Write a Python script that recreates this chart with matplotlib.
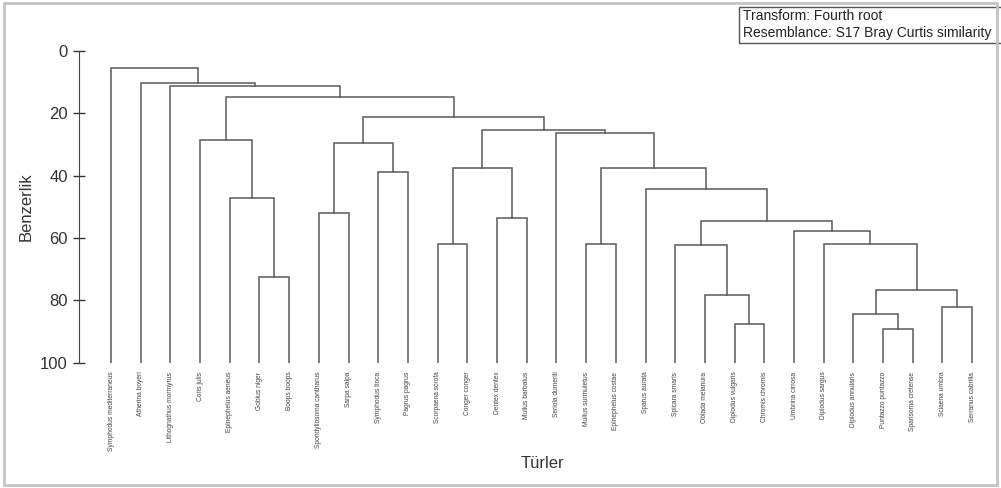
import matplotlib
matplotlib.use('Agg')
import matplotlib.pyplot as plt
from matplotlib.patches import Rectangle

plt.rcParams['font.family'] = ['Liberation Sans', 'DejaVu Sans']

# Leaf order as drawn
species = [
    'Symphodus mediterraneus', 'Atherina boyeri', 'Lithognathus mormyrus', 'Coris julis',
    'Epinephelus aeneus', 'Gobius niger', 'Boops boops', 'Spondyliosoma cantharus',
    'Sarpa salpa', 'Symphodus tinca', 'Pagrus pagrus', 'Scorpaena scrofa',
    'Conger conger', 'Dentex dentex', 'Mullus barbatus', 'Seriola dumerili',
    'Mullus surmuletus', 'Epinephelus costae', 'Sparus aurata', 'Spicara smaris',
    'Oblada melanura', 'Diplodus vulgaris', 'Chromis chromis', 'Umbrina cirrosa',
    'Diplodus sargus', 'Diplodus annularis', 'Puntazzo puntazzo', 'Sparisoma cretense',
    'Sciaena umbra', 'Serranus cabrilla',
]

# Linkage: merge k creates node id len(species)+k (children are leaf indices or earlier nodes)
merge_left = [5, 4, 3, 7, 9, 33, 11, 13, 36, 16, 21, 20, 19, 26, 25, 28, 44, 24, 23, 42,
              18, 39, 15, 38, 35, 32, 2, 1, 0]
merge_right = [6, 30, 31, 8, 10, 34, 12, 14, 37, 17, 22, 40, 41, 27, 43, 29, 45, 46, 47, 48,
               49, 50, 51, 52, 53, 54, 55, 56, 57]
merge_height = [72.5, 47.3, 28.6, 51.9, 38.7, 29.6, 61.8, 53.5, 37.6, 61.9, 87.5, 78.4, 62.2,
                89.2, 84.5, 82.1, 76.7, 62.0, 57.7, 54.4, 44.2, 37.4, 26.4, 25.3, 21.1, 14.7,
                11.1, 10.2, 5.5]

y_ticks = [0, 20, 40, 60, 80, 100]
line_col = '#5a5a5a'

fig = plt.figure(figsize=(10.01, 4.88), dpi=100)
ax = fig.add_axes([79 / 1001, 0.2568, 911 / 1001, 0.6387])

# node positions
n = len(species)
xs = list(range(n))
ys = [100.0] * n
for a, b, h in zip(merge_left, merge_right, merge_height):
    xa, ya, xb, yb = xs[a], ys[a], xs[b], ys[b]
    ax.plot([xa, xa, xb, xb], [ya, h, h, yb], color=line_col, lw=1.1, solid_joinstyle='miter')
    xs.append((xa + xb) / 2)
    ys.append(h)

ax.set_xlim(-1.078, 29.6)
ax.set_ylim(100, 0)
ax.set_yticks(y_ticks)
ax.tick_params(axis='y', direction='inout', length=8, width=1, pad=4,
               labelsize=12, colors='#333333')
ax.set_xticks(range(n))
ax.set_xticklabels(species, rotation=90, fontsize=4.8, color='#444444')
ax.tick_params(axis='x', length=0, pad=6.5)
for s in ['top', 'right', 'bottom']:
    ax.spines[s].set_visible(False)
ax.spines['left'].set_bounds(0, 100)
ax.spines['left'].set_color('#444444')
ax.set_ylabel('Benzerlik', fontsize=12, color='#333333')
ax.yaxis.set_label_coords(-0.050, 0.5)

fig.text(542 / 1001, 1 - 463 / 488, 'Türler', fontsize=12, ha='center', va='center',
         color='#333333')

# info box at top right
fig.patches.append(Rectangle((739 / 1001, 1 - 43 / 488), 270 / 1001, 36 / 488,
                             transform=fig.transFigure, fill=False, edgecolor='#555555',
                             lw=1, clip_on=False))
fig.text(743 / 1001, 1 - 9 / 488, 'Transform: Fourth root', fontsize=10, va='top',
         color='#222222')
fig.text(743 / 1001, 1 - 26 / 488, 'Resemblance: S17 Bray Curtis similarity', fontsize=10,
         va='top', color='#222222')

# outer frame
fig.patches.append(Rectangle((0.004, 0.006), 0.992, 0.988, transform=fig.transFigure,
                             fill=False, edgecolor='#c4c4c4', lw=2))

fig.savefig('out.png', dpi=100)
